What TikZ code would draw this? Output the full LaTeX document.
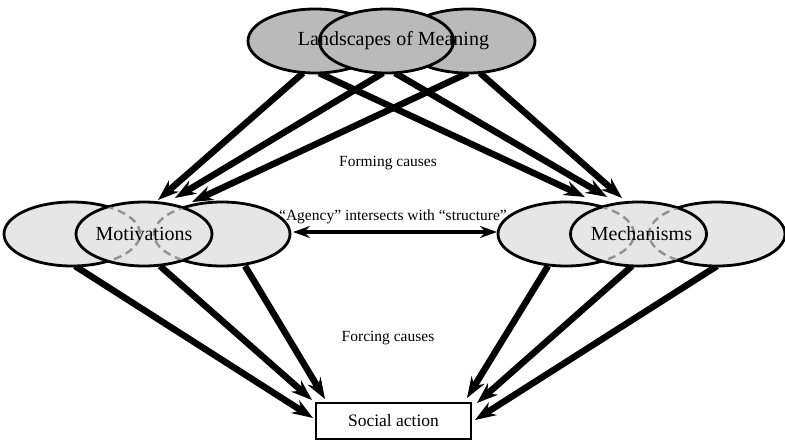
\documentclass[tikz,border=0pt]{standalone}
\usepackage{fontspec}
\setmainfont{Liberation Serif}
\usetikzlibrary{arrows.meta,shapes.geometric}
\pgfdeclarelayer{background}
\pgfsetlayers{background,main}
\definecolor{topgray}{RGB}{186,186,186}
\definecolor{midgray}{RGB}{230,230,230}
\definecolor{dashgray}{RGB}{145,145,145}
\begin{document}
\begin{tikzpicture}[x=1pt,y=-1pt,
  topell/.style={ellipse, draw, line width=2.8pt, fill=topgray, minimum width=134pt, minimum height=64pt, inner sep=0pt, outer sep=0pt},
  midell/.style={ellipse, draw, line width=2.8pt, fill=midgray, minimum width=136pt, minimum height=64pt, inner sep=0pt, outer sep=0pt},
  biglabel/.style={font=\fontsize{20}{24}\selectfont, inner sep=0pt},
  smalllabel/.style={font=\fontsize{15.5}{18}\selectfont, inner sep=0pt},
  actionbox/.style={draw, line width=2.5pt, fill=white, minimum width=155pt, minimum height=36pt, inner sep=0pt, outer sep=0pt, font=\fontsize{17.5}{21}\selectfont},
  bigarrow/.style={line width=6.5pt, -{Stealth[length=21pt,width=15pt,inset=7pt]}},
  duoarrow/.style={line width=4.5pt, {Stealth[length=17pt,width=12pt,inset=6pt]}-{Stealth[length=17pt,width=12pt,inset=6pt]}},
  overlapdash/.style={dashgray, line width=2.4pt, dash pattern=on 8pt off 5pt}
]
\useasboundingbox (0,0) rectangle (785,440);

% top group
\node[topell] (tl) at (315,41) {};
\node[topell] (tr) at (468,41) {};
\node[topell] (tm) at (386.5,41) {};
\node[biglabel] (toptext) at (393.5,41) {Landscapes of Meaning};

% motivations group
\node[midell] (ml) at (72,234) {};
\node[midell] (mr) at (222,234) {};
\node[midell] (mm) at (144,234) {};
\begin{scope}
  \clip (mm.center) ellipse [x radius=67pt, y radius=31pt];
  \draw[overlapdash] (ml.center) ellipse [x radius=68pt, y radius=32pt];
  \draw[overlapdash] (mr.center) ellipse [x radius=68pt, y radius=32pt];
\end{scope}
\node[biglabel] (mmtext) at (mm.center) {Motivations};

% mechanisms group
\node[midell] (rl) at (566,234) {};
\node[midell] (rr) at (717,234) {};
\node[midell] (rm) at (638.5,234) {};
\begin{scope}
  \clip (rm.center) ellipse [x radius=67pt, y radius=31pt];
  \draw[overlapdash] (rl.center) ellipse [x radius=68pt, y radius=32pt];
  \draw[overlapdash] (rr.center) ellipse [x radius=68pt, y radius=32pt];
\end{scope}
\node[biglabel] (rmtext) at ([xshift=3pt]rm.center) {Mechanisms};

% social action
\node[actionbox] (sa) at (393.5,421) {Social action};

% labels
\node[smalllabel] (forming) at (388,163) {Forming causes};
\node[smalllabel] (forcing) at (388,338) {Forcing causes};
\node[smalllabel] (agency) at (393,217) {“Agency” intersects with “structure”};

% arrows
\begin{pgfonlayer}{background}
  % top to motivations
  \draw[bigarrow] ([xshift=-12pt]tl.south) -- ([xshift=14pt,yshift=2pt]mm.north);
  \draw[bigarrow] ([xshift=-3.5pt]tm.south) -- ([xshift=31pt,yshift=4pt]mm.north);
  \draw[bigarrow] (tr.south) -- ([xshift=-30pt]mr.north);
  % top to mechanisms
  \draw[bigarrow] ([xshift=4pt]tl.south) -- ([xshift=-53.5pt,yshift=5pt]rm.north);
  \draw[bigarrow] ([xshift=8.5pt]tm.south) -- ([xshift=-31.5pt,yshift=5pt]rm.north);
  \draw[bigarrow] ([xshift=12pt]tr.south) -- ([xshift=-16.5pt,yshift=4pt]rm.north);
  % motivations to social action
  \draw[bigarrow] ([xshift=3pt]ml.south) -- ([xshift=-3pt,yshift=-15pt]sa.north west);
  \draw[bigarrow] ([xshift=16pt]mm.south) -- ([xshift=-4pt,yshift=3pt]sa.north west);
  \draw[bigarrow] ([xshift=23pt]mr.south) -- ([xshift=9pt,yshift=4pt]sa.north west);
  % mechanisms to social action
  \draw[bigarrow] ([xshift=-18pt]rl.south) -- ([xshift=-4pt,yshift=5pt]sa.north east);
  \draw[bigarrow] ([xshift=-6.5pt]rm.south) -- ([xshift=6pt]sa.north east);
  \draw[bigarrow] (rr.south) -- ([xshift=4pt,yshift=-17pt]sa.north east);
\end{pgfonlayer}
\draw[duoarrow] ([xshift=3pt,yshift=2pt]mr.east) -- ([xshift=-1pt,yshift=2pt]rl.west);
\end{tikzpicture}
\end{document}
